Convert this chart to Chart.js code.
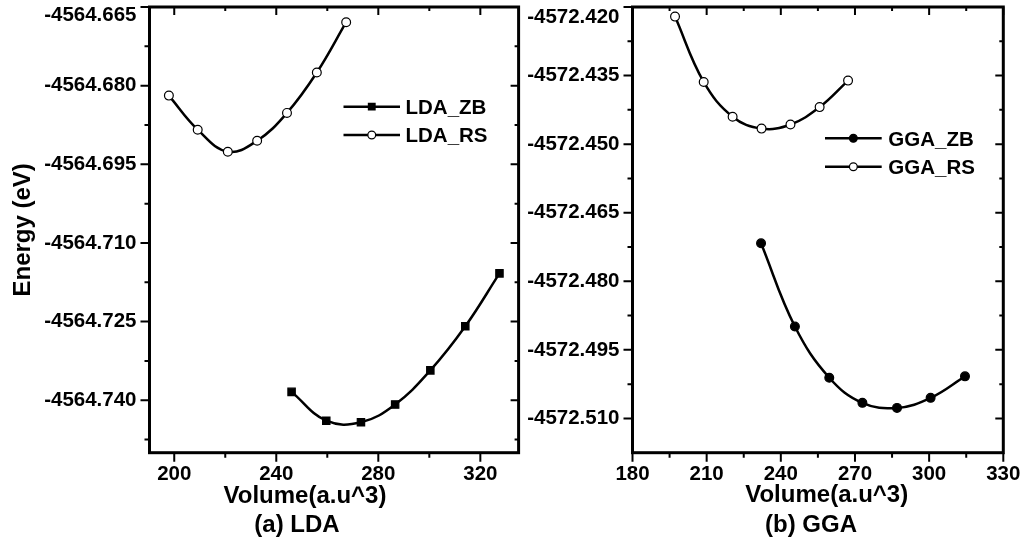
<!DOCTYPE html>
<html>
<head>
<meta charset="utf-8">
<title>Energy vs Volume</title>
<script src="https://cdn.jsdelivr.net/npm/chart.js@4"></script>
<style>
  html, body { margin: 0; padding: 0; background: #fff; }
  #wrap { position: relative; width: 1025px; height: 542px; overflow: hidden; }
  canvas { position: absolute; top: 0; }
  #lda { left: 0; }
  #gga { left: 525px; }
</style>
</head>
<body>
<div id="wrap">
  <canvas id="lda" width="525" height="542"></canvas>
  <canvas id="gga" width="500" height="542"></canvas>
</div>
<script>
// (a) LDA – energy (eV) vs volume (a.u^3)
const ldaZbVolume = [246.0, 259.6, 273.2, 286.6, 300.4, 314.1, 327.5];
const ldaZbEnergy = [-4564.7384, -4564.7439, -4564.7442, -4564.7408, -4564.7343, -4564.7259, -4564.7158];
const ldaRsVolume = [197.9, 209.2, 221.0, 232.5, 244.2, 255.9, 267.4];
const ldaRsEnergy = [-4564.6819, -4564.6884, -4564.6926, -4564.6905, -4564.6852, -4564.6775, -4564.6679];

// (b) GGA
const ggaZbVolume = [232.0, 245.7, 259.6, 273.0, 287.0, 300.6, 314.5];
const ggaZbEnergy = [-4572.4717, -4572.4899, -4572.5011, -4572.5066, -4572.5077, -4572.5055, -4572.5008];
const ggaRsVolume = [197.2, 208.8, 220.5, 232.2, 243.9, 255.7, 267.2];
const ggaRsEnergy = [-4572.4221, -4572.4364, -4572.4440, -4572.4466, -4572.4457, -4572.4419, -4572.4361];

// axis ticks
const ldaXTicks = [200, 240, 280, 320];
const ldaXMinor = [220, 260, 300];
const ldaYTicks = [-4564.665, -4564.680, -4564.695, -4564.710, -4564.725, -4564.740];
const ldaYMinor = [-4564.6725, -4564.6875, -4564.7025, -4564.7175, -4564.7325, -4564.7475];

const ggaXTicks = [180, 210, 240, 270, 300, 330];
const ggaXMinor = [195, 225, 255, 285, 315];
const ggaYTicks = [-4572.420, -4572.435, -4572.450, -4572.465, -4572.480, -4572.495, -4572.510];
const ggaYMinor = [-4572.4275, -4572.4425, -4572.4575, -4572.4725, -4572.4875, -4572.5025];

const FONT = '"Liberation Sans", Arial, Helvetica, sans-serif';
Chart.defaults.font.family = FONT;
Chart.defaults.font.weight = 'bold';
Chart.defaults.color = '#000';

// box around the plot with ticks on every side (out on left/bottom, in on top/right)
const framePlugin = {
  id: 'frame',
  beforeDatasetsDraw(chart, args, opts) {
    const { ctx, chartArea: a, scales: { x, y } } = chart;
    ctx.save();
    ctx.strokeStyle = '#000';
    ctx.lineWidth = 2;
    ctx.beginPath();
    const xTicks = (vals, len) => vals.forEach(v => {
      const px = x.getPixelForValue(v);
      ctx.moveTo(px, a.bottom); ctx.lineTo(px, a.bottom + len + 1);
      ctx.moveTo(px, a.top); ctx.lineTo(px, a.top + len);
    });
    const yTicks = (vals, len) => vals.forEach(v => {
      const py = y.getPixelForValue(v);
      ctx.moveTo(a.left - len - 1, py); ctx.lineTo(a.left, py);
      ctx.moveTo(a.right, py); ctx.lineTo(a.right - len, py);
    });
    xTicks(opts.xMajor, 8);
    xTicks(opts.xMinor, 4);
    yTicks(opts.yMajor, 8);
    yTicks(opts.yMinor, 4);
    ctx.stroke();
    ctx.lineWidth = 3;
    ctx.strokeRect(a.left, a.top, a.right - a.left, a.bottom - a.top);
    ctx.restore();
  }
};

// legend drawn inside the plot area
const insideLegend = {
  id: 'insideLegend',
  afterDraw(chart, args, opts) {
    const ctx = chart.ctx;
    ctx.save();
    chart.data.datasets.forEach((ds, i) => {
      const rowY = opts.rows[i];
      ctx.strokeStyle = '#000';
      ctx.lineWidth = 2.5;
      ctx.beginPath();
      ctx.moveTo(opts.x1, rowY);
      ctx.lineTo(opts.x2, rowY);
      ctx.stroke();
      ctx.fillStyle = ds.pointBackgroundColor;
      ctx.lineWidth = 1.2;
      Chart.helpers.drawPoint(ctx, {
        pointStyle: ds.pointStyle, radius: ds.pointRadius - 0.5, rotation: 0, borderWidth: 1.2
      }, (opts.x1 + opts.x2) / 2, rowY);
      ctx.fillStyle = '#000';
      ctx.font = 'bold 20.5px ' + FONT;
      ctx.textAlign = 'left';
      ctx.textBaseline = 'alphabetic';
      ctx.fillText(ds.label, opts.textX, rowY + 7.3);
    });
    ctx.restore();
  }
};

// x-axis title and panel caption under each plot
const captions = {
  id: 'captions',
  afterDraw(chart, args, opts) {
    const ctx = chart.ctx;
    ctx.save();
    ctx.fillStyle = '#000';
    ctx.font = 'bold 24px ' + FONT;
    ctx.textAlign = 'center';
    ctx.textBaseline = 'alphabetic';
    opts.lines.forEach(l => ctx.fillText(l.text, l.x, l.y));
    ctx.restore();
  }
};

function makePanel(id, p) {
  const yTop = p.yTicks[0];
  return new Chart(document.getElementById(id), {
    type: 'scatter',
    data: {
      datasets: p.series.map(s => ({
        label: s.label,
        data: s.x.map((v, i) => ({ x: v, y: s.y[i] })),
        showLine: true,
        tension: 0.4,
        borderColor: '#000',
        borderWidth: 2.5,
        pointStyle: s.pointStyle,
        pointRadius: s.radius,
        pointBackgroundColor: s.fill,
        pointBorderColor: '#000',
        pointBorderWidth: 1.2
      }))
    },
    options: {
      responsive: false,
      animation: false,
      events: [],
      devicePixelRatio: 1,
      layout: { padding: p.padding },
      scales: {
        x: {
          type: 'linear',
          min: p.xMin,
          max: p.xMax,
          grid: { display: false, drawTicks: false },
          border: { display: false },
          afterBuildTicks: s => { s.ticks = p.xTicks.map(v => ({ value: v })); },
          afterFit: s => { s.height = p.xHeight; s.paddingLeft = 0; s.paddingRight = 0; },
          ticks: {
            autoSkip: false,
            maxRotation: 0,
            padding: 9.5,
            font: { size: 20.5, weight: 'bold' },
            callback: v => String(v)
          }
        },
        y: {
          type: 'linear',
          min: p.yMin,
          max: p.yMax,
          grid: { display: false, drawTicks: false },
          border: { display: false },
          afterBuildTicks: s => { s.ticks = p.yTicks.map(v => ({ value: v })); },
          afterFit: s => { s.width = p.yWidth; s.paddingTop = 0; s.paddingBottom = 0; },
          title: {
            display: !!p.yTitle,
            text: p.yTitle || '',
            font: { size: 24, weight: 'bold' },
            padding: { top: 8.5, bottom: 0 }
          },
          ticks: {
            autoSkip: false,
            padding: 13,
            // the top label sits a little below its tick
            callback: v => v === yTop ? ['', v.toFixed(3)] : v.toFixed(3),
            font: c => (c.tick && c.tick.value === yTop)
              ? { size: 20.5, weight: 'bold', lineHeight: p.topLabelShift }
              : { size: 20.5, weight: 'bold' }
          }
        }
      },
      plugins: {
        legend: { display: false },
        tooltip: { enabled: false },
        frame: { xMajor: p.xTicks, xMinor: p.xMinor, yMajor: p.yTicks, yMinor: p.yMinor },
        insideLegend: p.legend,
        captions: { lines: p.captions }
      }
    },
    plugins: [framePlugin, insideLegend, captions]
  });
}

makePanel('lda', {
  series: [
    { label: 'LDA_ZB', x: ldaZbVolume, y: ldaZbEnergy, pointStyle: 'rect', radius: 5.2, fill: '#000' },
    { label: 'LDA_RS', x: ldaRsVolume, y: ldaRsEnergy, pointStyle: 'circle', radius: 4.4, fill: '#fff' }
  ],
  xMin: 190.3, xMax: 335,
  yMin: -4564.750, yMax: -4564.665,
  xTicks: ldaXTicks, xMinor: ldaXMinor,
  yTicks: ldaYTicks, yMinor: ldaYMinor,
  padding: { top: 7, right: 4.4, left: 0, bottom: 0 },
  yWidth: 149.5,
  xHeight: 89.3,
  topLabelShift: 0.85,
  yTitle: 'Energy (eV)',
  legend: { x1: 343.5, x2: 400, textX: 405.5, rows: [106.7, 135] },
  captions: [
    { text: 'Volume(a.u^3)', x: 305, y: 503.3 },
    { text: '(a) LDA', x: 297, y: 531.7 }
  ]
});

makePanel('gga', {
  series: [
    { label: 'GGA_ZB', x: ggaZbVolume, y: ggaZbEnergy, pointStyle: 'circle', radius: 4.4, fill: '#000' },
    { label: 'GGA_RS', x: ggaRsVolume, y: ggaRsEnergy, pointStyle: 'circle', radius: 4.4, fill: '#fff' }
  ],
  xMin: 180, xMax: 330,
  yMin: -4572.5175, yMax: -4572.420,
  xTicks: ggaXTicks, xMinor: ggaXMinor,
  yTicks: ggaYTicks, yMinor: ggaYMinor,
  padding: { top: 7, right: 21.7, left: 0, bottom: 0 },
  yWidth: 107.5,
  xHeight: 89.3,
  topLabelShift: 1.0,
  yTitle: '',
  legend: { x1: 300, x2: 356.7, textX: 363.3, rows: [138.3, 166.7] },
  captions: [
    { text: 'Volume(a.u^3)', x: 301.7, y: 501.7 },
    { text: '(b) GGA', x: 286, y: 531.7 }
  ]
});
</script>
</body>
</html>
